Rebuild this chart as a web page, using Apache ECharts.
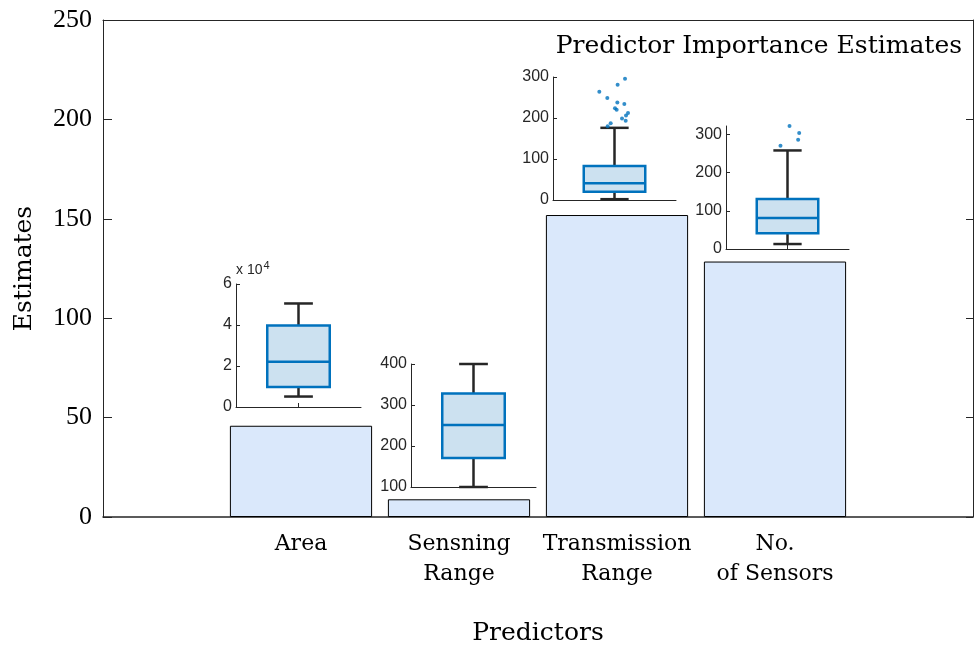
<!DOCTYPE html>
<html>
<head>
<meta charset="utf-8">
<script src="https://cdn.jsdelivr.net/npm/echarts@6/dist/echarts.min.js"></script>
<style>
html, body { margin: 0; padding: 0; background: #fff; }
#chart { width: 975px; height: 648px; }
</style>
</head>
<body>
<div id="chart"></div>
<script>
// main bars
var predictors = ['Area', 'Sensning\nRange', 'Transmission\nRange', 'No.\nof Sensors'];
var importance = [45.9, 8.9, 151.9, 128.5];

// inset boxes: [min, q1, median, q3, max]
var areaBox = [5100, 9700, 22100, 39700, 50500];
var senseBox = [100, 171, 251, 328, 400];
var transBox = [2, 20, 41, 83, 176];
var sensorsBox = [13, 41, 81, 131, 258];

// outliers (value) and their horizontal jitter
var transOutliers = [264, 249, 281, 296, 238, 234, 224, 220, 199, 193, 206, 212, 187, 180];
var transJitter = [-0.247, -0.117, 0.051, 0.171, 0.046, 0.160, 0.008, 0.035, 0.122, 0.182, 0.187, 0.220, -0.062, -0.111];
var sensorsOutliers = [270, 322, 304, 286];
var sensorsJitter = [-0.114, 0.033, 0.190, 0.173];

// inset tick values
var areaTicks = [0, 20000, 40000, 60000];
var senseTicks = [100, 200, 300, 400];
var transTicks = [0, 100, 200, 300];
var sensorsTicks = [0, 100, 200, 300];

var AX = '#262626';
var BLUE = '#0072bd';
var SERIF = '"DejaVu Serif", serif';
var NUM = '"Liberation Serif", serif';
var SANS = '"Liberation Sans", Arial, sans-serif';

var myChart = echarts.init(document.getElementById('chart'));

function renderBox(params, api) {
    var x = api.value(0);
    var top = api.coord([x, api.value(5)]);
    var q3 = api.coord([x, api.value(4)]);
    var med = api.coord([x, api.value(3)]);
    var q1 = api.coord([x, api.value(2)]);
    var bot = api.coord([x, api.value(1)]);
    var hw = api.size([0.5, 0])[0];
    var cw = api.size([0.23, 0])[0];
    var cx = top[0];
    var wStyle = { stroke: AX, lineWidth: 2.5 };
    var bStyle = { stroke: BLUE, lineWidth: 2.5, fill: '#cce1f0' };
    return {
        type: 'group',
        children: [
            { type: 'line', shape: { x1: cx, y1: top[1], x2: cx, y2: q3[1] }, style: wStyle },
            { type: 'line', shape: { x1: cx, y1: q1[1], x2: cx, y2: bot[1] }, style: wStyle },
            { type: 'line', shape: { x1: cx - cw, y1: top[1], x2: cx + cw, y2: top[1] }, style: wStyle },
            { type: 'line', shape: { x1: cx - cw, y1: bot[1], x2: cx + cw, y2: bot[1] }, style: wStyle },
            { type: 'rect', shape: { x: cx - hw, y: q3[1], width: hw * 2, height: q1[1] - q3[1] }, style: bStyle },
            { type: 'line', shape: { x1: cx - hw, y1: med[1], x2: cx + hw, y2: med[1] }, style: { stroke: BLUE, lineWidth: 2.5 } }
        ]
    };
}

// inset layouts
var insets = [
    { box: areaBox, ticks: areaTicks, min: 0, max: 60000, grid: { left: 236, top: 284, width: 125, height: 123 }, scale: 10000 },
    { box: senseBox, ticks: senseTicks, min: 100, max: 400, grid: { left: 411, top: 364, width: 125, height: 123 } },
    { box: transBox, ticks: transTicks, min: 0, max: 300, grid: { left: 553, top: 77, width: 123, height: 123 },
      out: transOutliers, jit: transJitter },
    { box: sensorsBox, ticks: sensorsTicks, min: 0, max: 322, grid: { left: 726, top: 126, width: 123, height: 123 },
      out: sensorsOutliers, jit: sensorsJitter }
];

var grids = [
    { left: 103, top: 20, right: 2, height: 497, outerBoundsMode: 'none' },
    { left: 222, top: 20, width: 632, height: 497, outerBoundsMode: 'none' }
];
var xAxes = [
    { gridIndex: 0, type: 'value', min: 0, max: 1, position: 'bottom',
      axisLine: { onZero: false, lineStyle: { color: AX, width: 1.5 } }, axisTick: { show: false }, axisLabel: { show: false },
      splitLine: { show: false },
      name: 'Predictors', nameLocation: 'middle', nameGap: 104,
      nameTextStyle: { fontFamily: SERIF, fontSize: 25, color: '#000' } },
    { gridIndex: 0, type: 'value', min: 0, max: 1, position: 'top',
      axisLine: { onZero: false, lineStyle: { color: AX, width: 1 } }, axisTick: { show: false }, axisLabel: { show: false },
      splitLine: { show: false } },
    { gridIndex: 1, type: 'category', data: predictors, position: 'bottom',
      axisLine: { show: false, onZero: false },
      axisTick: { inside: true, alignWithLabel: true, length: 7, lineStyle: { color: AX } },
      axisLabel: { fontFamily: SERIF, fontSize: 22, lineHeight: 30, color: '#000', margin: 12, interval: 0 } },
    { gridIndex: 1, type: 'category', data: predictors, position: 'top',
      axisLine: { show: false, onZero: false },
      axisTick: { inside: true, alignWithLabel: true, length: 7, lineStyle: { color: AX } },
      axisLabel: { show: false } }
];
var yAxes = [
    { gridIndex: 0, type: 'value', min: 0, max: 250, interval: 50, position: 'left',
      axisLine: { show: true, onZero: false, lineStyle: { color: AX } },
      axisTick: { show: true, inside: true, length: 9, lineStyle: { color: AX } },
      axisLabel: { fontFamily: NUM, fontSize: 26, color: '#000', margin: 11 },
      splitLine: { show: false },
      name: 'Estimates', nameLocation: 'middle', nameGap: 66,
      nameTextStyle: { fontFamily: SERIF, fontSize: 25, color: '#000' } },
    { gridIndex: 0, type: 'value', min: 0, max: 250, interval: 50, position: 'right',
      axisLine: { show: true, onZero: false, lineStyle: { color: AX } },
      axisTick: { show: true, inside: true, length: 7, lineStyle: { color: AX } },
      axisLabel: { show: false }, splitLine: { show: false } },
    { gridIndex: 1, type: 'value', min: 0, max: 250, show: false }
];
var series = [{
    type: 'bar',
    xAxisIndex: 2,
    yAxisIndex: 2,
    barWidth: '90%',
    data: importance,
    itemStyle: { color: '#dae8fb', borderColor: '#000', borderWidth: 1 },
    z: 1
}];

insets.forEach(function (s, i) {
    s.grid.outerBoundsMode = 'none';
    grids.push(s.grid);
    xAxes.push({
        gridIndex: i + 2, type: 'value', min: 0, max: 2,
        axisLine: { onZero: false, lineStyle: { color: AX } },
        axisTick: { show: true, inside: true, length: 4, customValues: [1], lineStyle: { color: AX } },
        axisLabel: { show: false }, splitLine: { show: false }
    });
    var y = {
        gridIndex: i + 2, type: 'value', min: s.min, max: s.max,
        axisLine: { show: true, onZero: false, lineStyle: { color: AX } },
        axisTick: { show: true, inside: true, length: 4, customValues: s.ticks, lineStyle: { color: AX } },
        axisLabel: {
            customValues: s.ticks, fontFamily: SANS, fontSize: 16, color: AX, margin: 4,
            formatter: function (v) { return s.scale ? String(v / s.scale) : String(v); }
        },
        splitLine: { show: false }
    };
    if (s.scale) {
        y.name = '{a|x 10}{b|4}';
        y.nameLocation = 'end';
        y.nameGap = 4;
        y.nameTextStyle = {
            align: 'left', padding: [0, 0, 0, 0],
            rich: {
                a: { fontFamily: SANS, fontSize: 14, color: AX },
                b: { fontFamily: SANS, fontSize: 11, color: AX, padding: [0, 0, 9, 1] }
            }
        };
    }
    yAxes.push(y);
    series.push({
        type: 'custom',
        xAxisIndex: i + 4,
        yAxisIndex: i + 3,
        renderItem: renderBox,
        clip: false,
        data: [[1].concat(s.box)],
        z: 5
    });
    if (s.out) {
        series.push({
            type: 'scatter',
            xAxisIndex: i + 4,
            yAxisIndex: i + 3,
            symbolSize: 4,
            itemStyle: { color: BLUE },
            data: s.out.map(function (v, k) { return [1 + s.jit[k], v]; }),
            z: 6
        });
    }
});

var option = {
    animation: false,
    title: {
        text: 'Predictor Importance Estimates',
        right: 13,
        top: 34,
        padding: 0,
        textStyle: { fontFamily: SERIF, fontSize: 25, fontWeight: 'normal', color: '#000' }
    },
    grid: grids,
    xAxis: xAxes,
    yAxis: yAxes,
    series: series
};
myChart.setOption(option);
window.addEventListener('resize', function () {
    myChart.resize();
});
</script>
</body>
</html>
